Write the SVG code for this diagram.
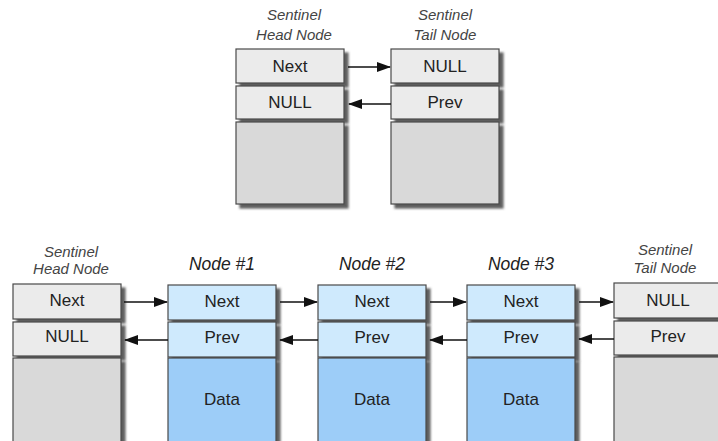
<svg xmlns="http://www.w3.org/2000/svg" width="718" height="441" viewBox="0 0 718 441">
  <defs>
    <filter id="shadow" x="-10%" y="-10%" width="130%" height="130%">
      <feGaussianBlur in="SourceAlpha" stdDeviation="1.2"/>
      <feOffset dx="3.5" dy="3.5" result="off"/>
      <feFlood flood-color="#4e4e4e" flood-opacity="0.9"/>
      <feComposite in2="off" operator="in"/>
      <feMerge><feMergeNode/><feMergeNode in="SourceGraphic"/></feMerge>
    </filter>
    <marker id="arrow" markerWidth="14" markerHeight="11" refX="13" refY="5.5" orient="auto" markerUnits="userSpaceOnUse">
      <path d="M0,0.5 L14,5.5 L0,10.5 Z" fill="#111"/>
    </marker>
  </defs>
  <style>
    .cell { stroke: #4a4a4a; stroke-width: 1.2; filter: url(#shadow); }
    .g1 { fill: #ebebeb; }
    .g2 { fill: #d9d9d9; }
    .b1 { fill: #cfeafd; }
    .b2 { fill: #9dcdf8; }
    .txt { font-family: "Liberation Sans", Arial, sans-serif; font-size: 17px; fill: #222; text-anchor: middle; }
    .cap { font-family: "Liberation Sans", Arial, sans-serif; font-size: 15px; font-style: italic; fill: #444; text-anchor: middle; }
    .title { font-family: "Liberation Sans", Arial, sans-serif; font-size: 17.5px; font-style: italic; fill: #222; text-anchor: middle; }
    .link { stroke: #111; stroke-width: 1.6; fill: none; marker-end: url(#arrow); }
  </style>
  <rect width="718" height="441" fill="#ffffff"/>

  <!-- empty list: head and tail sentinels only -->
  <g id="top-head">
    <text class="cap" x="294" y="20">Sentinel</text>
    <text class="cap" x="294" y="40">Head Node</text>
    <rect class="cell g1" x="236" y="49" width="108" height="34"/>
    <rect class="cell g1" x="236" y="86" width="108" height="33"/>
    <rect class="cell g2" x="236" y="122" width="108" height="82"/>
    <text class="txt" x="290" y="72">Next</text>
    <text class="txt" x="290" y="108">NULL</text>
  </g>
  <g id="top-tail">
    <text class="cap" x="445" y="20">Sentinel</text>
    <text class="cap" x="445" y="40">Tail Node</text>
    <rect class="cell g1" x="391" y="49" width="108" height="34"/>
    <rect class="cell g1" x="391" y="86" width="108" height="33"/>
    <rect class="cell g2" x="391" y="122" width="108" height="82"/>
    <text class="txt" x="445" y="72">NULL</text>
    <text class="txt" x="445" y="108">Prev</text>
  </g>

  <!-- list with three data nodes -->
  <g id="head">
    <text class="cap" x="71" y="257">Sentinel</text>
    <text class="cap" x="71" y="274">Head Node</text>
    <rect class="cell g1" x="13" y="284" width="108" height="35"/>
    <rect class="cell g1" x="13" y="322" width="108" height="34"/>
    <rect class="cell g2" x="13" y="358" width="108" height="84"/>
    <text class="txt" x="67" y="306">Next</text>
    <text class="txt" x="67" y="342">NULL</text>
  </g>
  <g id="node1">
    <text class="title" x="222" y="270">Node #1</text>
    <rect class="cell b1" x="168" y="285" width="108" height="35"/>
    <rect class="cell b1" x="168" y="322" width="108" height="35"/>
    <rect class="cell b2" x="168" y="358" width="108" height="84"/>
    <text class="txt" x="222" y="307">Next</text>
    <text class="txt" x="222" y="343">Prev</text>
    <text class="txt" x="222" y="405">Data</text>
  </g>
  <g id="node2">
    <text class="title" x="372" y="270">Node #2</text>
    <rect class="cell b1" x="318" y="285" width="108" height="35"/>
    <rect class="cell b1" x="318" y="322" width="108" height="35"/>
    <rect class="cell b2" x="318" y="358" width="108" height="84"/>
    <text class="txt" x="372" y="307">Next</text>
    <text class="txt" x="372" y="343">Prev</text>
    <text class="txt" x="372" y="405">Data</text>
  </g>
  <g id="node3">
    <text class="title" x="521" y="270">Node #3</text>
    <rect class="cell b1" x="467" y="285" width="108" height="35"/>
    <rect class="cell b1" x="467" y="322" width="108" height="35"/>
    <rect class="cell b2" x="467" y="358" width="108" height="84"/>
    <text class="txt" x="521" y="307">Next</text>
    <text class="txt" x="521" y="343">Prev</text>
    <text class="txt" x="521" y="405">Data</text>
  </g>
  <g id="tail">
    <text class="cap" x="665" y="255">Sentinel</text>
    <text class="cap" x="665" y="273">Tail Node</text>
    <rect class="cell g1" x="614" y="283" width="108" height="35"/>
    <rect class="cell g1" x="614" y="321" width="108" height="34"/>
    <rect class="cell g2" x="614" y="357" width="108" height="85"/>
    <text class="txt" x="668" y="306">NULL</text>
    <text class="txt" x="668" y="342">Prev</text>
  </g>

  <!-- next / prev links -->
  <g id="links">
    <line class="link" x1="348" y1="67" x2="390" y2="67"/>
    <line class="link" x1="391" y1="104" x2="349" y2="104"/>

    <line class="link" x1="124" y1="302" x2="167" y2="302"/>
    <line class="link" x1="168" y1="340" x2="125" y2="340"/>
    <line class="link" x1="280" y1="302" x2="317" y2="302"/>
    <line class="link" x1="318" y1="340" x2="280" y2="340"/>
    <line class="link" x1="430" y1="302" x2="466" y2="302"/>
    <line class="link" x1="467" y1="340" x2="430" y2="340"/>
    <line class="link" x1="579" y1="302" x2="613" y2="302"/>
    <line class="link" x1="614" y1="339" x2="579" y2="339"/>
  </g>
</svg>
